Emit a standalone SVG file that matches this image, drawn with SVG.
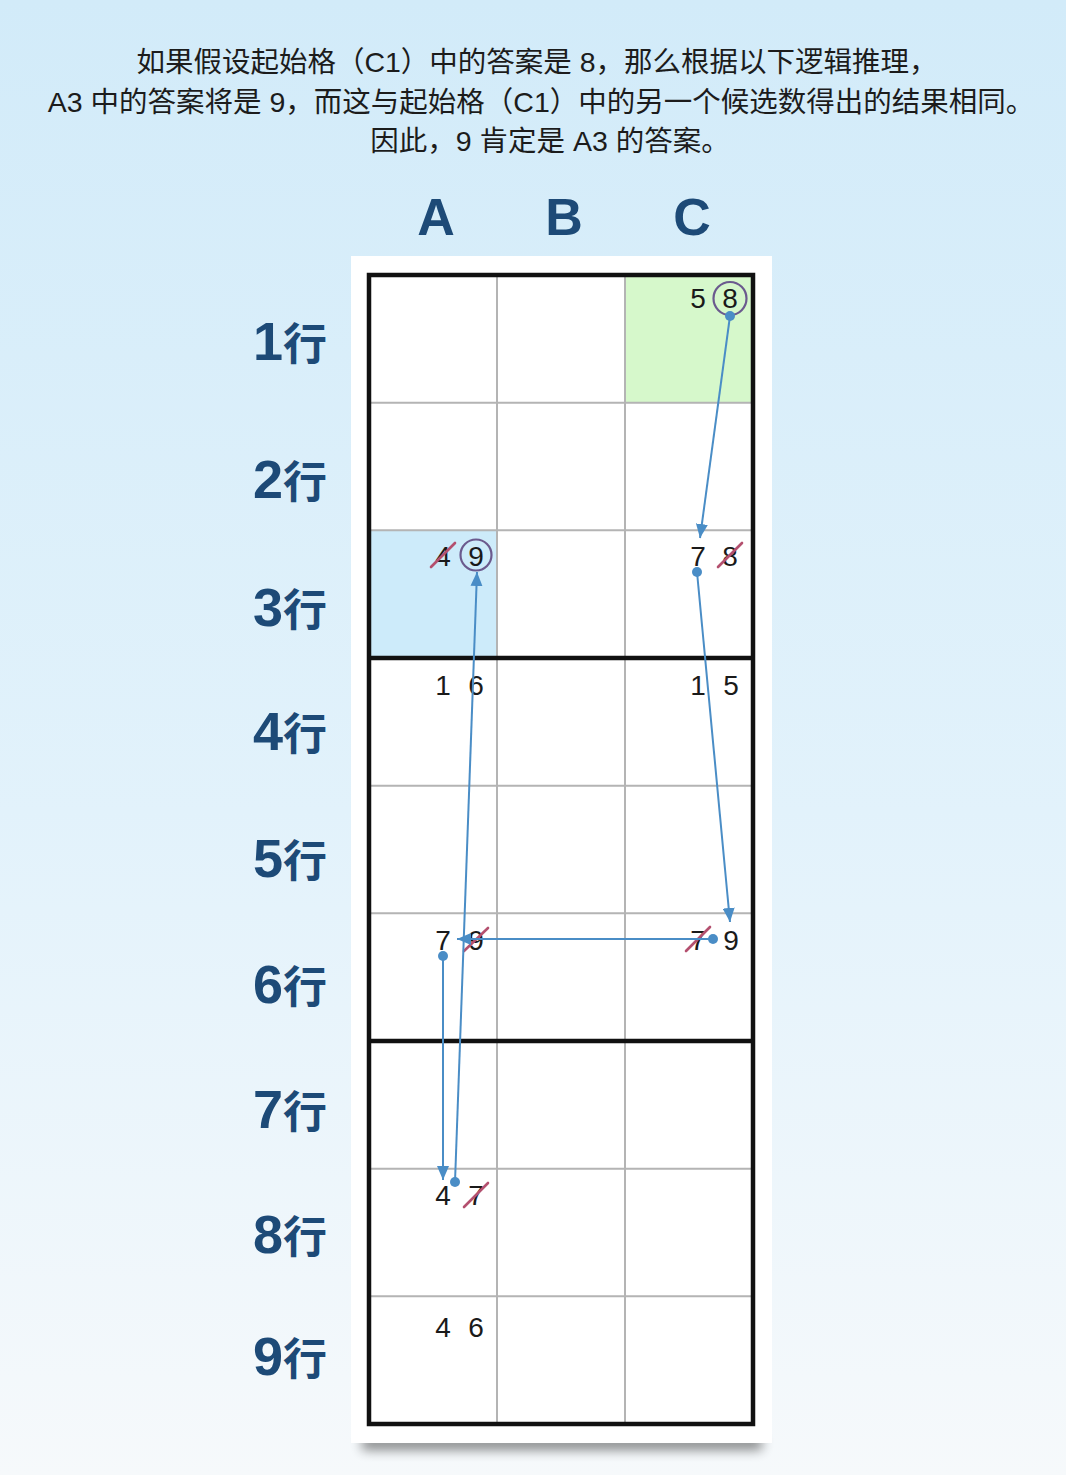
<svg xmlns="http://www.w3.org/2000/svg" width="1066" height="1475" viewBox="0 0 1066 1475">
<defs>
  <linearGradient id="bg" x1="0" y1="0" x2="0" y2="1">
    <stop offset="0" stop-color="#d2ebf9"/>
    <stop offset="0.55" stop-color="#e2f2fb"/>
    <stop offset="1" stop-color="#f6f9fb"/>
  </linearGradient>
  <filter id="blur" x="-20%" y="-200%" width="140%" height="500%">
    <feGaussianBlur stdDeviation="6"/>
  </filter>
  <marker id="arr" viewBox="0 0 14 12" refX="14" refY="6" markerWidth="14" markerHeight="12" markerUnits="userSpaceOnUse" orient="auto">
    <path d="M0,0 L14,6 L0,12 Z" fill="#4a8dc6"/>
  </marker>
  <style>
    .intro{font-family:"Liberation Sans","Noto Sans CJK SC",sans-serif;font-size:28.5px;fill:#1c1c1c;text-anchor:middle}
    .col{font-family:"Liberation Sans","Noto Sans CJK SC",sans-serif;font-weight:bold;font-size:52px;fill:#1d4a77;text-anchor:middle}
    .row{font-family:"Liberation Sans","Noto Sans CJK SC",sans-serif;font-weight:bold;fill:#1d4a77;text-anchor:middle}
    .d{font-size:54px}
    .k{font-family:"Noto Sans CJK SC",sans-serif;font-size:44px}
    .cand{font-family:"Liberation Sans",sans-serif;font-size:28px;fill:#1a1a1a;text-anchor:middle}
    .thin{stroke:#b4b4b4;stroke-width:2;fill:none}
    .thick{stroke:#111;stroke-width:4.5;fill:none}
    .ring{stroke:#6b5a8e;stroke-width:2.2;fill:none}
    .strike{stroke:#b4506f;stroke-width:2.6;stroke-linecap:round}
    .link{stroke:#4a8dc6;stroke-width:2;fill:none;marker-end:url(#arr)}
    .dot{fill:#4a8dc6}
  </style>
</defs>
<rect x="0" y="0" width="1066" height="1475" fill="url(#bg)"/>

<g id="intro">
  <text class="intro" x="537" y="72">如果假设起始格（C1）中的答案是 8，那么根据以下逻辑推理，</text>
  <text class="intro" x="541" y="112">A3 中的答案将是 9，而这与起始格（C1）中的另一个候选数得出的结果相同。</text>
  <text class="intro" x="550" y="151">因此，9 肯定是 A3 的答案。</text>
</g>

<g id="column-labels">
  <text class="col" x="436" y="235">A</text>
  <text class="col" x="564" y="235">B</text>
  <text class="col" x="692" y="235">C</text>
</g>

<g id="row-labels">
  <text class="row" x="290" y="360"><tspan class="d">1</tspan><tspan class="k">行</tspan></text>
  <text class="row" x="290" y="498"><tspan class="d">2</tspan><tspan class="k">行</tspan></text>
  <text class="row" x="290" y="626"><tspan class="d">3</tspan><tspan class="k">行</tspan></text>
  <text class="row" x="290" y="750"><tspan class="d">4</tspan><tspan class="k">行</tspan></text>
  <text class="row" x="290" y="877"><tspan class="d">5</tspan><tspan class="k">行</tspan></text>
  <text class="row" x="290" y="1003"><tspan class="d">6</tspan><tspan class="k">行</tspan></text>
  <text class="row" x="290" y="1128"><tspan class="d">7</tspan><tspan class="k">行</tspan></text>
  <text class="row" x="290" y="1253"><tspan class="d">8</tspan><tspan class="k">行</tspan></text>
  <text class="row" x="290" y="1375"><tspan class="d">9</tspan><tspan class="k">行</tspan></text>
</g>

<g id="board">
  <rect x="362" y="1436" width="400" height="14" fill="#000" opacity="0.45" filter="url(#blur)"/>
  <rect x="351" y="256" width="421" height="1187" fill="#ffffff"/>
  <rect x="625" y="275" width="128" height="127.7" fill="#d6f8cb"/>
  <rect x="369" y="530.3" width="128" height="127.7" fill="#cdebfa"/>
  <path class="thin" d="M497,275V1424M625,275V1424M369,402.7H753M369,530.3H753M369,785.7H753M369,913.3H753M369,1168.7H753M369,1296.3H753"/>
  <path class="thick" d="M369,658H753M369,1041H753"/>
  <rect class="thick" x="369" y="275" width="384" height="1149"/>
</g>

<g id="C1">
  <text class="cand" x="698" y="308">5</text>
  <text class="cand" x="730" y="308">8</text>
  <circle class="ring" cx="730" cy="298.5" r="16.5"/>
</g>
<g id="A3">
  <text class="cand" x="443" y="566">4</text>
  <line class="strike" x1="431" y1="567" x2="455" y2="543"/>
  <text class="cand" x="476" y="566">9</text>
  <circle class="ring" cx="476" cy="555" r="15.5"/>
</g>
<g id="C3">
  <text class="cand" x="698" y="566">7</text>
  <text class="cand" x="730" y="566">8</text>
  <line class="strike" x1="718" y1="567" x2="742" y2="543"/>
</g>
<g id="A4">
  <text class="cand" x="443" y="695">1</text>
  <text class="cand" x="476" y="695">6</text>
</g>
<g id="C4">
  <text class="cand" x="698" y="695">1</text>
  <text class="cand" x="731" y="695">5</text>
</g>
<g id="A6">
  <text class="cand" x="443" y="950">7</text>
  <text class="cand" x="476" y="950">9</text>
  <line class="strike" x1="464" y1="951" x2="488" y2="928"/>
</g>
<g id="C6">
  <text class="cand" x="698" y="950">7</text>
  <line class="strike" x1="686" y1="951" x2="710" y2="927"/>
  <text class="cand" x="731" y="950">9</text>
</g>
<g id="A8">
  <text class="cand" x="443" y="1205">4</text>
  <text class="cand" x="476" y="1205">7</text>
  <line class="strike" x1="464" y1="1207" x2="488" y2="1183"/>
</g>
<g id="A9">
  <text class="cand" x="443" y="1337">4</text>
  <text class="cand" x="476" y="1337">6</text>
</g>

<g id="connectors">
  <line class="link" x1="730" y1="316" x2="700" y2="538"/>
  <circle class="dot" cx="730" cy="316" r="5"/>
  <line class="link" x1="697" y1="572" x2="730" y2="922"/>
  <circle class="dot" cx="697" cy="572" r="5"/>
  <line class="link" x1="713" y1="939" x2="457" y2="939"/>
  <circle class="dot" cx="713" cy="939" r="5"/>
  <line class="link" x1="443" y1="956" x2="443" y2="1180"/>
  <circle class="dot" cx="443" cy="956" r="5"/>
  <line class="link" x1="455" y1="1182" x2="477" y2="572"/>
  <circle class="dot" cx="455" cy="1182" r="5"/>
</g>
</svg>
